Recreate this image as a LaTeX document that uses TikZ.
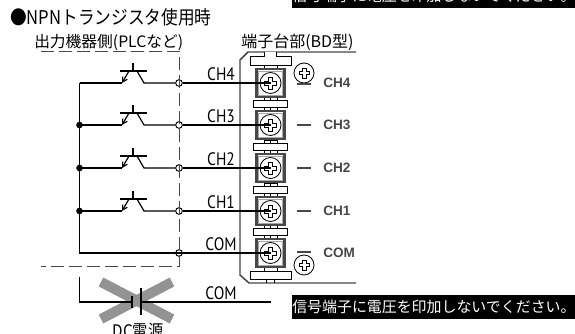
\documentclass[tikz,border=0pt]{standalone}
\usepackage{fontspec}
\setmainfont{PT Sans}[FakeStretch=0.86]
\newfontfamily\jp{Noto Sans CJK JP}
\newfontfamily\jpnarrow{Noto Sans CJK JP}[FakeStretch=0.88]
\newfontfamily\tagfont{Liberation Sans}
\usetikzlibrary{positioning,arrows.meta}
\definecolor{framegray}{gray}{0.28}
\tikzset{wire/.style={draw, line width=0.9pt}}
\tikzset{label/.style={inner sep=0pt, font=\fontsize{13.5}{13}\selectfont}}
\tikzset{tlabel/.style={inner sep=0pt, anchor=west, text=framegray, font=\fontsize{10.2}{10}\selectfont\tagfont\bfseries}}
\tikzset{plate/.style={draw=black, line width=0.6pt, fill=white}}
\tikzset{dot/.style={circle, fill=black, inner sep=0pt, minimum size=5pt}}
\tikzset{port/.style={circle, draw, fill=white, line width=0.7pt, inner sep=0pt, minimum size=5pt}}
\tikzset{banner/.style={fill=black, text=white, inner sep=0pt, minimum width=212pt, minimum height=18pt, font=\fontsize{11.2}{12}\selectfont\jp}}
% plus shaped screw head
\newcommand{\screwhead}[4]{
  \draw [plate] (#1,#2) circle (#3);
  \draw [plate, line width=0.45pt] ({#1-#4*0.36},{#2-#4}) -- ({#1+#4*0.36},{#2-#4}) -- ({#1+#4*0.36},{#2-#4*0.36}) -- ({#1+#4},{#2-#4*0.36}) -- ({#1+#4},{#2+#4*0.36}) -- ({#1+#4*0.36},{#2+#4*0.36}) -- ({#1+#4*0.36},{#2+#4}) -- ({#1-#4*0.36},{#2+#4}) -- ({#1-#4*0.36},{#2+#4*0.36}) -- ({#1-#4},{#2+#4*0.36}) -- ({#1-#4},{#2-#4*0.36}) -- ({#1-#4*0.36},{#2-#4*0.36}) -- cycle;
}
\begin{document}
\begin{tikzpicture}[x=0.75pt, y=-0.75pt]
  \useasboundingbox (0,0) rectangle (575,334);
  % banners
  \node [banner, anchor=south west] (topnote) at (292,8) {信号端子に電圧を印加しないでください。};
  \node [banner, anchor=north west] (botnote) at (292,295) {信号端子に電圧を印加しないでください。};
  % titles
  \node [inner sep=0pt, anchor=west, font=\fontsize{14.2}{14}\selectfont\jpnarrow] (title) at (10,17) {●NPNトランジスタ使用時};
  \node [inner sep=0pt, anchor=west, font=\fontsize{11.8}{13}\selectfont\jp] (side) at (34,42) {出力機器側(PLCなど)};
  \node [inner sep=0pt, anchor=west, font=\fontsize{12}{13}\selectfont\jp] (block) at (241,42) {端子台部(BD型)};
  % frame
  \draw [draw=framegray, line width=1.1pt] (356,52) -- (248,52) -- (240,60) -- (240,275) -- (249,283) -- (356,283);
  % plates
  \draw [plate] (264,52) -- (264,56) -- (250,56) -- (250,65) -- (291,65) -- (291,56) -- (276,56) -- (276,52);
  \draw [plate] (250,271) rectangle (291,279);
  \draw [plate] (266,279) -- (266,283) (274,279) -- (274,283);
  \draw [plate] (264,65) -- (264,69) (277,65) -- (277,69) (264,267) -- (264,271) (277,267) -- (277,271);
  \foreach \y in {104,147,190,232}
    {
    \draw [plate] (264,{\y-7}) rectangle (277,{\y+7});
    \draw [plate] (270.5,{\y-7}) -- (270.5,{\y+7});
    \draw [plate] (253,{\y-3.5}) rectangle (287,{\y+3.5});
    }
  % terminals
  \foreach \y/\name in {83/CH4,125/CH3,168/CH2,211/CH1,253/COM}
    {
    \draw [draw=framegray, fill=white, line width=1.9pt] (256.5,{\y-14}) rectangle (284.5,{\y+14});
    \draw [draw=gray!70, line width=0.7pt] (258.5,{\y-12}) rectangle (282.5,{\y+12});
    \screwhead{270.5}{\y}{10.5}{6}
    \node [label] (lab\name) at (221,{\y-9}) {\name};
    \node [tlabel] (tag\name) at (323,\y) {\name};
    \node [port] (p\name) at (179,\y) {};
    }
  % dashed box
  \draw [draw=framegray, line width=0.7pt, dash pattern=on 9.5pt off 4pt] (41,51) -- (179,51) -- (179,266) -- (41,266);
  % wiring
  \draw [wire] (79.5,83) |- (270.5,253);
  \foreach \y/\name in {83/CH4,125/CH3,168/CH2,211/CH1}
    {
    \draw [wire] (79.5,\y) -- (122,\y);
    \draw [wire, -{Straight Barb[length=3.5pt,width=4pt]}] (129,{\y-12}) -- (122,\y);
    \draw [wire] (120,{\y-12}) -- (147,{\y-12});
    \draw [wire] (133,{\y-20}) -- (133,{\y-12});
    \draw [wire] (137,{\y-12}) -- (144,\y) -- (p\name);
    \draw [wire] (p\name) -- (270.5,\y);
    }
  \foreach \y in {125,168,211}
    \node [dot] (j\y) at (79.5,\y) {};
  % forbidden supply
  \draw [draw=gray!85, line width=7.5pt] (101,282) -- (172,319);
  \draw [draw=gray!85, line width=7.5pt] (101,319) -- (172,282);
  \draw [wire] (79.5,277) |- (132,302);
  \draw [draw=black, line width=2pt] (132,296) -- (132,308);
  \draw [draw=black, line width=0.9pt] (141,288) -- (141,315);
  \draw [wire] (141,302) -- (270.5,302);
  \node [label] (comlow) at (221,293) {COM};
  \node [inner sep=0pt, font=\fontsize{13}{12}\selectfont\jpnarrow] (dc) at (138,331.5) {DC電源};
  % side symbols
  \screwhead{304}{73}{10}{5}
  \draw [draw=framegray, line width=1.6pt] (297,84) -- (311,84);
  \screwhead{304}{265}{10}{5}
  \draw [draw=framegray, line width=1.6pt] (297,252) -- (311,252);
  \foreach \y in {125,168,211}
    \draw [draw=framegray, line width=1.3pt] (297,\y) -- (311,\y);
\end{tikzpicture}
\end{document}
